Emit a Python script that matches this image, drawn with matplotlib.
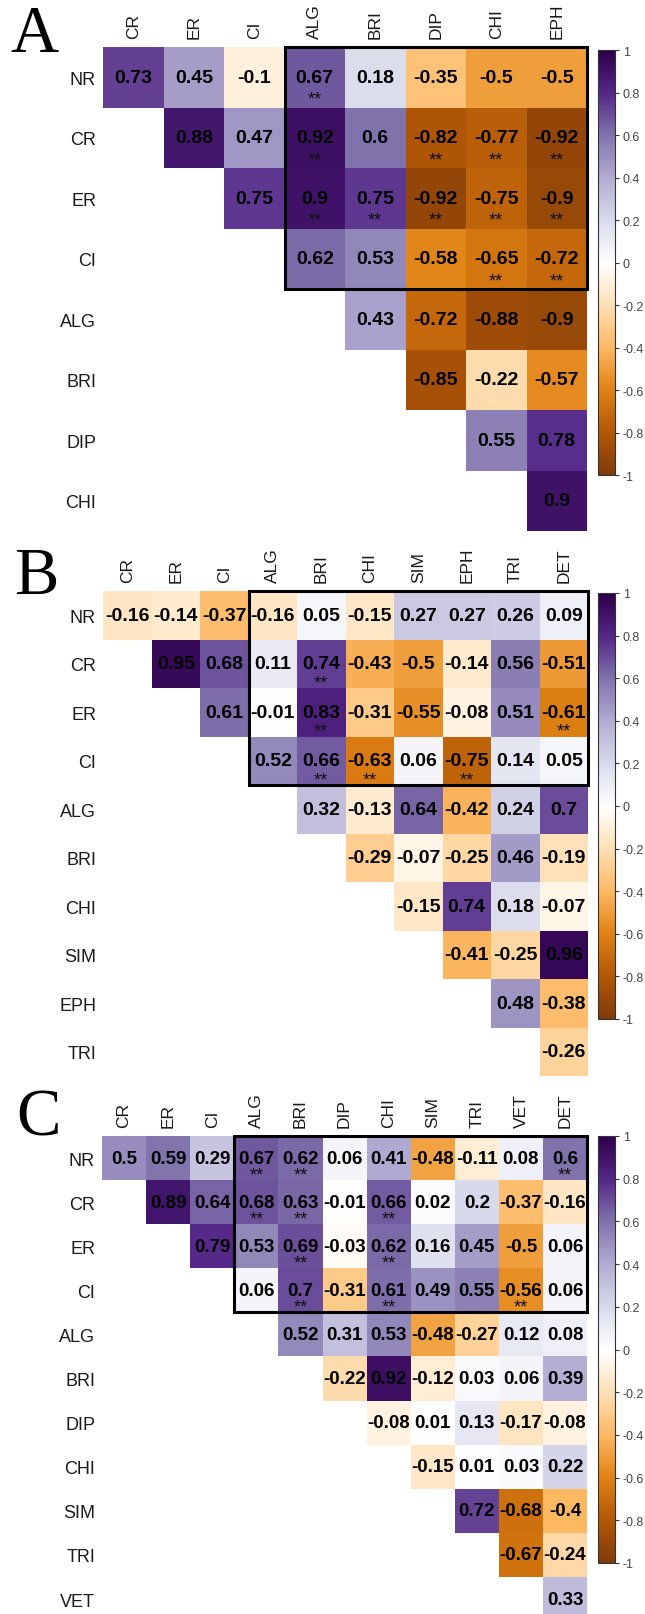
import numpy as np
import matplotlib
matplotlib.use("Agg")
from matplotlib import pyplot as plt
from matplotlib.colors import LinearSegmentedColormap, Normalize
from matplotlib.patches import Rectangle
from matplotlib.cm import ScalarMappable

plt.rcParams['font.family'] = ['Liberation Sans', 'DejaVu Sans']

# ---- data (upper triangle, row i starts at column i) ----
a_rows = ["NR", "CR", "ER", "CI", "ALG", "BRI", "DIP", "CHI"]
a_cols = ["CR", "ER", "CI", "ALG", "BRI", "DIP", "CHI", "EPH"]
a_vals = [
    [0.73, 0.45, -0.1, 0.67, 0.18, -0.35, -0.5, -0.5],
    [0.88, 0.47, 0.92, 0.6, -0.82, -0.77, -0.92],
    [0.75, 0.9, 0.75, -0.92, -0.75, -0.9],
    [0.62, 0.53, -0.58, -0.65, -0.72],
    [0.43, -0.72, -0.88, -0.9],
    [-0.85, -0.22, -0.57],
    [0.55, 0.78],
    [0.9],
]
a_sig = [("NR", "ALG"), ("CR", "ALG"), ("CR", "DIP"), ("CR", "CHI"), ("CR", "EPH"),
         ("ER", "ALG"), ("ER", "BRI"), ("ER", "DIP"), ("ER", "CHI"), ("ER", "EPH"),
         ("CI", "CHI"), ("CI", "EPH")]

b_rows = ["NR", "CR", "ER", "CI", "ALG", "BRI", "CHI", "SIM", "EPH", "TRI"]
b_cols = ["CR", "ER", "CI", "ALG", "BRI", "CHI", "SIM", "EPH", "TRI", "DET"]
b_vals = [
    [-0.16, -0.14, -0.37, -0.16, 0.05, -0.15, 0.27, 0.27, 0.26, 0.09],
    [0.95, 0.68, 0.11, 0.74, -0.43, -0.5, -0.14, 0.56, -0.51],
    [0.61, -0.01, 0.83, -0.31, -0.55, -0.08, 0.51, -0.61],
    [0.52, 0.66, -0.63, 0.06, -0.75, 0.14, 0.05],
    [0.32, -0.13, 0.64, -0.42, 0.24, 0.7],
    [-0.29, -0.07, -0.25, 0.46, -0.19],
    [-0.15, 0.74, 0.18, -0.07],
    [-0.41, -0.25, 0.96],
    [0.48, -0.38],
    [-0.26],
]
b_sig = [("CR", "BRI"), ("ER", "BRI"), ("ER", "DET"), ("CI", "BRI"), ("CI", "CHI"), ("CI", "EPH")]

c_rows = ["NR", "CR", "ER", "CI", "ALG", "BRI", "DIP", "CHI", "SIM", "TRI", "VET"]
c_cols = ["CR", "ER", "CI", "ALG", "BRI", "DIP", "CHI", "SIM", "TRI", "VET", "DET"]
c_vals = [
    [0.5, 0.59, 0.29, 0.67, 0.62, 0.06, 0.41, -0.48, -0.11, 0.08, 0.6],
    [0.89, 0.64, 0.68, 0.63, -0.01, 0.66, 0.02, 0.2, -0.37, -0.16],
    [0.79, 0.53, 0.69, -0.03, 0.62, 0.16, 0.45, -0.5, 0.06],
    [0.06, 0.7, -0.31, 0.61, 0.49, 0.55, -0.56, 0.06],
    [0.52, 0.31, 0.53, -0.48, -0.27, 0.12, 0.08],
    [-0.22, 0.92, -0.12, 0.03, 0.06, 0.39],
    [-0.08, 0.01, 0.13, -0.17, -0.08],
    [-0.15, 0.01, 0.03, 0.22],
    [0.72, -0.68, -0.4],
    [-0.67, -0.24],
    [0.33],
]
c_sig = [("NR", "ALG"), ("NR", "BRI"), ("NR", "DET"), ("CR", "ALG"), ("CR", "BRI"), ("CR", "CHI"),
         ("ER", "BRI"), ("ER", "CHI"), ("CI", "BRI"), ("CI", "CHI"), ("CI", "VET")]

cbar_ticks = [1, 0.8, 0.6, 0.4, 0.2, 0, -0.2, -0.4, -0.6, -0.8, -1]

# corrplot PuOr palette (white centre)
puor = LinearSegmentedColormap.from_list("puor", [
    "#7F3B08", "#B35806", "#E08214", "#FDB863", "#FEE0B6", "#FFFFFF",
    "#D8DAEB", "#B2ABD2", "#8073AC", "#542788", "#2D004B"])

W, H = 645, 1615
fig = plt.figure(figsize=(W / 100, H / 100), dpi=100)


def px_axes(left, top, width, height):
    return fig.add_axes([left / W, 1 - (top + height) / H, width / W, height / H])


def draw_panel(letter, rows, cols, vals, sig, left, top, cell, cb_top, cb_bot,
               num_size, star_dy, letter_xy):
    nr, nc = len(rows), len(cols)
    mat = np.full((nr, nc), np.nan)
    for i, row in enumerate(vals):
        mat[i, i:i + len(row)] = row

    ax = px_axes(left, top, nc * cell, nr * cell)
    ax.pcolormesh(np.arange(nc + 1), np.arange(nr + 1), np.ma.masked_invalid(mat),
                  cmap=puor, vmin=-1, vmax=1)
    ax.set_xlim(0, nc)
    ax.set_ylim(nr, 0)
    for s in ax.spines.values():
        s.set_visible(False)
    ax.xaxis.tick_top()
    ax.set_xticks(np.arange(nc) + 0.5)
    ax.set_xticklabels(cols, rotation=90, fontsize=12.5, color='#1a1a1a')
    ax.set_yticks(np.arange(nr) + 0.5)
    ax.set_yticklabels(rows, fontsize=13, color='#1a1a1a')
    ax.tick_params(axis='x', length=0, pad=6.5)
    ax.tick_params(axis='y', length=0, pad=5)

    for i in range(nr):
        for j in range(nc):
            if np.isnan(mat[i, j]):
                continue
            ax.text(j + 0.5, i + 0.5, "%g" % mat[i, j], ha='center', va='center',
                    fontsize=num_size, fontweight='bold', color='black')
    for r, c in sig:
        i, j = rows.index(r), cols.index(c)
        ax.text(j + 0.5, i + 0.5 + star_dy / cell, "**", ha='center', va='center',
                fontsize=13, color='#111111')

    ax.add_patch(Rectangle((3, 0), nc - 3, 4, fill=False, lw=2.2, ec='black',
                           clip_on=False, zorder=5))

    cax = px_axes(598, cb_top, 17, cb_bot - cb_top)
    cb = fig.colorbar(ScalarMappable(norm=Normalize(-1, 1), cmap=puor), cax=cax,
                      ticks=cbar_ticks)
    cb.ax.set_yticklabels(["%g" % t for t in cbar_ticks])
    cb.ax.tick_params(length=3, width=0.8, color='#333333', labelsize=9,
                      labelcolor='#444444', pad=2.5)
    cb.outline.set_linewidth(0.8)
    cb.outline.set_edgecolor('#333333')

    fig.text(letter_xy[0] / W, 1 - letter_xy[1] / H, letter, fontsize=48,
             family=['Liberation Serif', 'DejaVu Serif'], va='baseline', ha='left')


draw_panel("A", a_rows, a_cols, a_vals, a_sig, 103, 48, 60.5, 51, 476, 14, 22, (10, 52))
draw_panel("B", b_rows, b_cols, b_vals, b_sig, 103, 592, 48.5, 594, 1020, 14, 19, (14, 594))
draw_panel("C", c_rows, c_cols, c_vals, c_sig, 102, 1137, 44.1, 1137, 1564, 13.5, 17, (16, 1136))

fig.savefig("out.png", dpi=100)
